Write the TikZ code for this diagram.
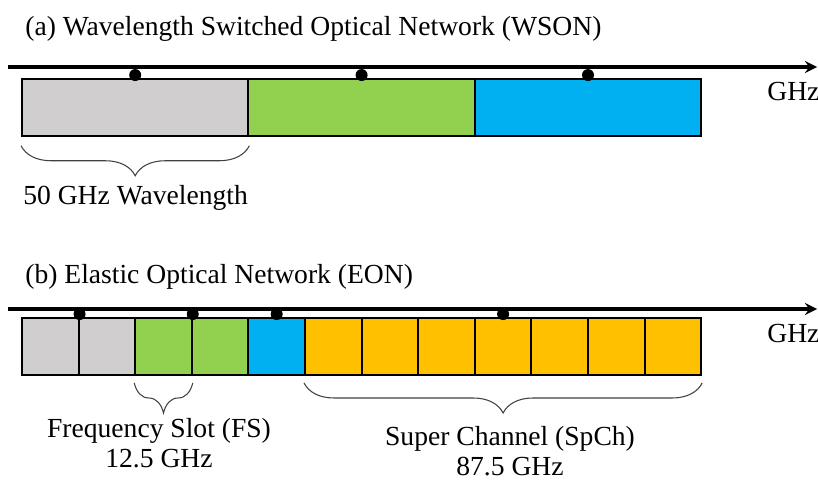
\documentclass[tikz,border=0pt]{standalone}
\usepackage{fontspec}
\setmainfont{Liberation Serif}
\usetikzlibrary{decorations.pathreplacing}

\definecolor{fsgray}{HTML}{D0CECE}
\definecolor{fsgreen}{HTML}{92D050}
\definecolor{fsblue}{HTML}{00B0F0}
\definecolor{fsyellow}{HTML}{FFC000}

\begin{document}
\begin{tikzpicture}[x=0.02cm, y=-0.02cm, >=stealth,
    font=\fontsize{15.7}{17.2}\selectfont,
    slot/.style={draw, line width=1.1pt, inner sep=0pt, minimum height=1.14cm, minimum width=1.132cm},
    wave/.style={slot, minimum width=4.528cm},
    axis/.style={->, line width=2pt},
    dot/.style={radius=0.12cm},
    brc/.style={decorate, decoration={brace, mirror, amplitude=0.6cm, aspect=0.5}, draw=black!75, line width=0.6pt},
    lbl/.style={inner sep=0pt}]
    \useasboundingbox (0,0) rectangle (818,480);

    % (a) WSON: ba bước sóng 50 GHz
    \node[lbl, anchor=base west] (ta) at (25,35) {(a) Wavelength Switched Optical Network (WSON)};
    \draw[axis] (8,67) -- (817,67);
    \node[lbl, anchor=base west] (ghza) at (767,100) {GHz};
    \node[wave, fill=fsgray] (w1) at (135.2,107.5) {};
    \node[wave, fill=fsgreen] (w2) at (361.6,107.5) {};
    \node[wave, fill=fsblue] (w3) at (588,107.5) {};
    \foreach \i in {1,2,3}
        \fill ([yshift=1.7pt]w\i.north) circle[dot];

    % Ngoặc và nhãn 50 GHz
    \draw[brc] ([yshift=-5pt]w1.south west) -- ([yshift=-5pt]w1.south east);
    \node[lbl, anchor=base west] (wl) at (23,204) {50 GHz Wavelength};

    % (b) EON: các khe tần số 12.5 GHz
    \node[lbl, anchor=base west] (tb) at (25,283) {(b) Elastic Optical Network (EON)};
    \draw[axis] (8,309) -- (817,309);
    \node[lbl, anchor=base west] (ghzb) at (767,342) {GHz};
    \foreach \c [count=\i from 0] in {fsgray,fsgray,fsgreen,fsgreen,fsblue,fsyellow,fsyellow,fsyellow,fsyellow,fsyellow,fsyellow,fsyellow}
        \node[slot, fill=\c] (s\i) at ({50.3+56.6*\i},346.5) {};

    % Tần số trung tâm
    \fill ([yshift=1.7pt]s0.north east) circle[dot];
    \fill ([yshift=1.7pt]s2.north east) circle[dot];
    \fill ([yshift=1.7pt]s4.north) circle[dot];
    \fill ([yshift=1.7pt]s8.north) circle[dot];

    % Ngoặc FS và SpCh
    \draw[brc] ([yshift=-4pt]s2.south west) -- ([yshift=-4pt]s2.south east);
    \draw[brc] ([yshift=-4pt]s5.south west) -- ([yshift=-4pt]s11.south east);
    \node[lbl, anchor=north, align=center] (fs) at (159,418) {Frequency Slot (FS)\\12.5 GHz};
    \node[lbl, anchor=north, align=center] (spch) at (510,426) {Super Channel (SpCh)\\87.5 GHz};

\end{tikzpicture}
\end{document}
